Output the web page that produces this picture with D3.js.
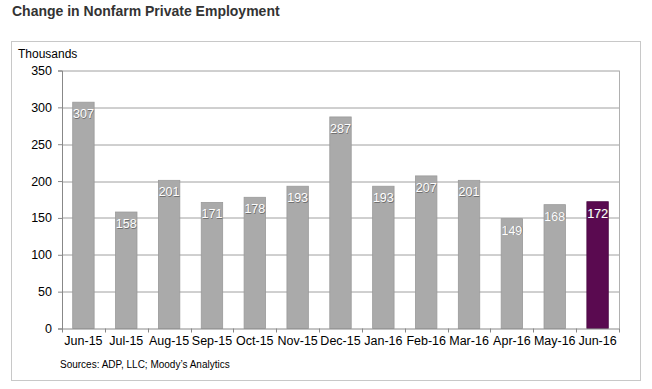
<!DOCTYPE html>
<html>
<head>
<meta charset="utf-8">
<script src="https://cdn.jsdelivr.net/npm/d3@7"></script>
<style>
  body { margin: 0; background: #fff; font-family: "Liberation Sans", Arial, sans-serif; }
</style>
</head>
<body>
<script>
// chart data
var months = ["Jun-15", "Jul-15", "Aug-15", "Sep-15", "Oct-15", "Nov-15", "Dec-15",
              "Jan-16", "Feb-16", "Mar-16", "Apr-16", "May-16", "Jun-16"];
var jobs = [307, 158, 201, 171, 178, 193, 287, 193, 207, 201, 149, 168, 172];
var yTicks = [0, 50, 100, 150, 200, 250, 300, 350];

var width = 652, height = 389;
var margin = {top: 70.5, right: 33, bottom: 60.5, left: 62};
var plotW = width - margin.left - margin.right,
    plotH = height - margin.top - margin.bottom;

var svg = d3.select("body").append("svg")
    .attr("width", width)
    .attr("height", height);

// title
svg.append("text")
    .attr("x", 12).attr("y", 15.5)
    .style("font-size", "14px").style("font-weight", "bold")
    .attr("fill", "#333")
    .text("Change in Nonfarm Private Employment");

// outer frame
svg.append("rect")
    .attr("x", 11.5).attr("y", 41.5)
    .attr("width", 629).attr("height", 339)
    .attr("fill", "none").attr("stroke", "#c8c8c8");

svg.append("text")
    .attr("x", 18).attr("y", 58)
    .style("font-size", "12px").attr("fill", "#000")
    .text("Thousands");

var g = svg.append("g")
    .attr("transform", "translate(" + margin.left + "," + margin.top + ")");

var x = d3.scaleBand().domain(months).range([0, plotW]).paddingInner(0.5).paddingOuter(0.25);
var y = d3.scaleLinear().domain([0, 350]).range([plotH, 0]);

// gridlines
g.selectAll(".grid")
    .data(yTicks.slice(1))
  .enter().append("line")
    .attr("x1", 0).attr("x2", plotW)
    .attr("y1", function(d) { return Math.round(y(d)) + 0.5; })
    .attr("y2", function(d) { return Math.round(y(d)) + 0.5; })
    .attr("stroke", "#a0a0a0");

// right edge of plot
g.append("line")
    .attr("x1", plotW + 0.5).attr("x2", plotW + 0.5)
    .attr("y1", y(350)).attr("y2", y(0))
    .attr("stroke", "#b0b0b0");

// bars
g.selectAll(".bar")
    .data(jobs)
  .enter().append("rect")
    .attr("class", "bar")
    .attr("x", function(d, i) { return x(months[i]); })
    .attr("width", x.bandwidth())
    .attr("y", function(d) { return y(d); })
    .attr("height", function(d) { return y(0) - y(d); })
    .attr("fill", function(d, i) { return i === jobs.length - 1 ? "#5a0a50" : "#aaaaaa"; })
    .attr("stroke", function(d, i) { return i === jobs.length - 1 ? "#4a0842" : "#9a9a9a"; })
    .attr("stroke-width", 0.8);

// value labels with a faint shadow
var labels = g.selectAll(".lbl")
    .data(jobs)
  .enter().append("g");
labels.append("text")
    .attr("x", function(d, i) { return x(months[i]) + x.bandwidth() / 2 + 0.6; })
    .attr("y", function(d) { return y(d) + 16.6; })
    .attr("text-anchor", "middle")
    .style("font-size", "12.5px")
    .attr("fill", "#707070")
    .text(function(d) { return d; });
labels.append("text")
    .attr("x", function(d, i) { return x(months[i]) + x.bandwidth() / 2; })
    .attr("y", function(d) { return y(d) + 16; })
    .attr("text-anchor", "middle")
    .style("font-size", "12.5px")
    .attr("fill", "#fff")
    .text(function(d) { return d; });

// y axis
var yAxis = g.append("g")
    .call(d3.axisLeft(y).tickValues(yTicks).tickSize(4).tickPadding(6));
yAxis.select(".domain").attr("stroke", "#888");
yAxis.selectAll(".tick line").attr("stroke", "#888");
yAxis.selectAll("text").style("font-size", "12.5px").style("font-family", "Liberation Sans, Arial").attr("fill", "#000");

// x axis, tick marks on band boundaries
var xAxis = g.append("g")
    .attr("transform", "translate(0," + plotH + ")")
    .call(d3.axisBottom(x).tickSize(0).tickPadding(8));
xAxis.select(".domain").attr("stroke", "#888");
xAxis.selectAll("text").style("font-size", "12.5px").style("font-family", "Liberation Sans, Arial").attr("fill", "#000");

g.selectAll(".xtick")
    .data(d3.range(months.length + 1))
  .enter().append("line")
    .attr("x1", function(i) { return Math.round(i * plotW / months.length) + 0.5; })
    .attr("x2", function(i) { return Math.round(i * plotW / months.length) + 0.5; })
    .attr("y1", plotH).attr("y2", plotH + 4)
    .attr("stroke", "#888");

// source note
svg.append("text")
    .attr("x", 60).attr("y", 368)
    .style("font-size", "10px").attr("fill", "#000")
    .text("Sources: ADP, LLC; Moody\u2019s Analytics");
</script>
</body>
</html>
